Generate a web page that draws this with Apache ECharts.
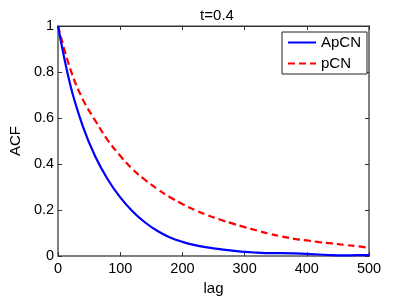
<!DOCTYPE html>
<html>
<head>
<meta charset="utf-8">
<script src="https://cdn.jsdelivr.net/npm/echarts@6/dist/echarts.min.js"></script>
<style>html,body{margin:0;padding:0;background:#fff}#c{width:407px;height:301px}</style>
</head>
<body>
<div id="c"></div>
<script>
var lags = [0,20,40,60,80,100,120,140,160,180,200,220,240,260,280,300,320,340,360,380,400,420,440,460,480,500];
var apcn = [1.0,0.74,0.563,0.432,0.333,0.255,0.194,0.146,0.109,0.081,0.062,0.048,0.038,0.03,0.024,0.018,0.015,0.013,0.013,0.012,0.01,0.007,0.004,0.003,0.004,0.004];
var pcn = [1.0,0.81,0.68,0.588,0.503,0.436,0.377,0.331,0.291,0.256,0.226,0.2,0.178,0.159,0.142,0.126,0.111,0.097,0.085,0.075,0.068,0.061,0.055,0.049,0.043,0.036];
var xTicks = [0,100,200,300,400,500];
var yTicks = [0,0.2,0.4,0.6,0.8,1];
var seriesNames = ['ApCN','pCN'];
var titleText = 't=0.4';
var xName = 'lag', yName = 'ACF';

function pairs(xs, ys){ return xs.map(function(x,i){ return [x, ys[i]]; }); }
var font = 'Liberation Sans, Arial, Helvetica, sans-serif';
var chart = echarts.init(document.getElementById('c'), null, {renderer:'canvas'});
var tickStyle = {show:true, inside:true, length:4, lineStyle:{color:'#333', width:1}};
chart.setOption({
  animation:false,
  backgroundColor:'#fff',
  title:{text:titleText, left:212, top:3, textAlign:'center',
    textStyle:{fontFamily:font, fontSize:15, fontWeight:'normal', color:'#000'}},
  grid:{left:53, right:38, top:26, bottom:37, show:true, borderColor:'#333', borderWidth:1, backgroundColor:'#fff'},
  legend:{orient:'vertical', left:282, top:32, data:seriesNames, itemWidth:28, itemHeight:14, itemGap:6,
    itemStyle:{opacity:0},
    padding:[3,6,3,5], backgroundColor:'#fff', borderColor:'#222', borderWidth:1, borderRadius:0, itemTextGap:3,
    textStyle:{fontFamily:font, fontSize:15, color:'#000'}},
  xAxis:[{type:'value', min:0, max:500, interval:100,
      name:xName, nameLocation:'middle', nameGap:20,
      nameTextStyle:{fontFamily:font, fontSize:15, color:'#000'},
      axisLine:{show:true, onZero:false, lineStyle:{color:'#808080', width:2}},
      axisTick:tickStyle, splitLine:{show:false},
      axisLabel:{fontFamily:font, fontSize:14.5, color:'#000', margin:5,
        formatter:function(v){ return xTicks.indexOf(v)>=0 ? String(v) : ''; }}},
    {type:'value', position:'top', min:0, max:500, interval:100,
      axisLine:{show:true, onZero:false, lineStyle:{color:'#333', width:1}},
      axisTick:tickStyle, axisLabel:{show:false}, splitLine:{show:false}}],
  yAxis:[{type:'value', min:0, max:1, interval:0.2,
      name:yName, nameLocation:'middle', nameGap:29, nameRotate:90,
      nameTextStyle:{fontFamily:font, fontSize:15, color:'#000'},
      axisLine:{show:true, onZero:false, lineStyle:{color:'#808080', width:2}},
      axisTick:tickStyle, splitLine:{show:false},
      axisLabel:{fontFamily:font, fontSize:14.5, color:'#000', margin:4,
        formatter:function(v){ var r=Math.round(v*10)/10; return yTicks.indexOf(r)>=0 ? String(r) : ''; }}},
    {type:'value', position:'right', min:0, max:1, interval:0.2,
      axisLine:{show:true, onZero:false, lineStyle:{color:'#808080', width:2}},
      axisTick:tickStyle, axisLabel:{show:false}, splitLine:{show:false}}],
  series:[
    {name:seriesNames[0], type:'line', data:pairs(lags, apcn), smooth:0.4, symbol:'none', showSymbol:false,
      lineStyle:{color:'#0000ff', width:2.2}, itemStyle:{color:'#0000ff'}, z:3},
    {name:seriesNames[1], type:'line', data:pairs(lags, pcn), smooth:0.4, symbol:'none', showSymbol:false,
      lineStyle:{color:'#ff0000', width:2.2, type:[7,4]}, itemStyle:{color:'#ff0000'}, z:2}
  ]
});
</script>
</body>
</html>
